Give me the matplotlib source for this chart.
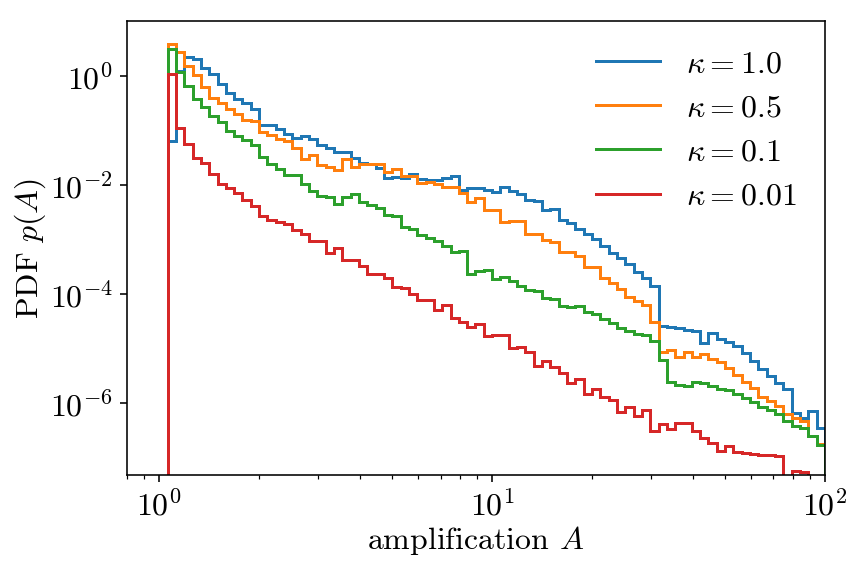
import numpy as np
import matplotlib
matplotlib.use("Agg")
import matplotlib.pyplot as plt
from matplotlib.ticker import NullLocator
from matplotlib.lines import Line2D

plt.rcParams["font.family"] = "serif"
plt.rcParams["font.serif"] = ["cmr10"]
plt.rcParams["mathtext.fontset"] = "cm"
plt.rcParams["axes.formatter.use_mathtext"] = True
plt.rcParams["axes.unicode_minus"] = False
plt.rcParams["font.size"] = 16

# histogram bins: 40 per decade, from 10^(1/40) up to 100
edges = 10 ** (np.arange(1, 81) / 40)

# log10 of the PDF in each bin (None = empty bin)
logp_k1 = [-1.20, 0.10, 0.35, 0.31, 0.15, 0.03, -0.15, -0.31, -0.43, -0.49,
           -0.61, -0.89, -0.90, -0.98, -1.07, -1.13, -1.10, -1.16, -1.26, -1.32,
           -1.40, -1.40, -1.50, -1.59, -1.62, -1.68, -1.86, -1.85, -1.86, -1.79,
           -1.89, -1.90, -1.90, -1.87, -1.84, -2.08, -2.05, -2.06, -2.09, -2.12,
           -2.03, -2.11, -2.17, -2.28, -2.29, -2.45, -2.43, -2.64, -2.70, -2.81,
           -2.90, -2.99, -3.11, -3.25, -3.33, -3.45, -3.60, -3.70, -3.84, -4.58,
           -4.60, -4.62, -4.66, -4.68, -4.90, -4.70, -4.82, -4.88, -4.95, -5.07,
           -5.22, -5.37, -5.49, -5.62, -5.74, -6.17, -6.26, -6.14, -6.44]
logp_k05 = [0.58, 0.44, 0.19, 0.01, -0.20, -0.40, -0.50, -0.60, -0.69, -0.81,
            -0.82, -1.03, -1.09, -1.16, -1.20, -1.32, -1.53, -1.44, -1.64, -1.66,
            -1.73, -1.53, -1.67, -1.61, -1.61, -1.61, -1.76, -1.70, -1.84, -1.84,
            -1.96, -1.95, -1.97, -2.03, -2.03, -2.14, -2.30, -2.24, -2.46, -2.46,
            -2.68, -2.66, -2.66, -2.89, -2.89, -3.01, -3.04, -3.22, -3.22, -3.30,
            -3.50, -3.50, -3.71, -3.80, -3.90, -4.05, -4.12, -4.20, -4.50, -5.06,
            -5.02, -5.14, -5.06, -5.14, -5.10, -5.18, -5.24, -5.35, -5.47, -5.60,
            -5.72, -5.89, -5.95, -6.05, -6.20, -6.26, -6.32, -6.60, -6.75]
logp_k01 = [0.50, 0.07, -0.19, -0.43, -0.57, -0.73, -0.85, -1.00, -1.10, -1.17,
            -1.26, -1.48, -1.61, -1.70, -1.82, -1.82, -1.98, -2.10, -2.19, -2.22,
            -2.34, -2.22, -2.17, -2.31, -2.36, -2.41, -2.55, -2.57, -2.76, -2.81,
            -2.91, -2.97, -3.03, -3.12, -3.22, -3.21, -3.62, -3.58, -3.55, -3.72,
            -3.69, -3.75, -3.85, -3.93, -3.94, -4.06, -4.09, -4.21, -4.24, -4.21,
            -4.33, -4.36, -4.46, -4.52, -4.61, -4.67, -4.73, -4.75, -4.85, -5.20,
            -5.60, -5.66, -5.68, -5.60, -5.62, -5.68, -5.74, -5.76, -5.82, -5.90,
            -5.98, -6.06, -6.12, -6.20, -6.32, -6.42, -6.44, -6.60, -6.76]
logp_k001 = [0.03, -0.96, -1.24, -1.50, -1.60, -1.79, -1.97, -2.05, -2.15, -2.28,
             -2.38, -2.56, -2.64, -2.67, -2.72, -2.82, -2.90, -3.02, -3.03, -3.25,
             -3.16, -3.38, -3.38, -3.48, -3.62, -3.62, -3.70, -3.87, -3.88, -3.99,
             -4.10, -4.10, -4.29, -4.19, -4.43, -4.50, -4.59, -4.54, -4.77, -4.75,
             -4.75, -4.99, -4.97, -5.06, -5.32, -5.23, -5.33, -5.45, -5.62, -5.55,
             -5.82, -5.73, -5.88, -5.94, -6.16, -6.06, -6.22, -6.12, -6.50, -6.38,
             -6.47, -6.36, -6.36, -6.50, -6.64, -6.72, -6.87, -6.77, -6.88, -6.90,
             -6.92, -6.94, -6.95, -6.96, None, -7.24, -7.26, None, None]

labels = [r"$\kappa = 1.0$", r"$\kappa = 0.5$", r"$\kappa = 0.1$", r"$\kappa = 0.01$"]
series = [logp_k1, logp_k05, logp_k01, logp_k001]

fig = plt.figure(figsize=(6, 569 / 143.5), dpi=143.5)
ax = fig.add_subplot(111)
fig.subplots_adjust(left=127 / 861, right=825 / 861, bottom=1 - 475 / 569, top=1 - 21 / 569)

centers = np.sqrt(edges[:-1] * edges[1:])
handles = []
for logp, lab in zip(series, labels):
    a = np.array(logp, dtype=float)
    pdf = np.where(np.isnan(a), 0.0, 10 ** a)
    _, _, patches = ax.hist(centers, bins=edges, weights=pdf, histtype="step",
                            log=True, linewidth=1.5)
    # legend shows plain lines, not boxes
    handles.append(Line2D([], [], color=patches[0].get_edgecolor(), linewidth=1.5, label=lab))

ax.set_xscale("log")
ax.set_xlim(0.8, 100)
ax.set_ylim(10 ** -7.31, 10 ** 1.007)
ax.set_yticks([1e-6, 1e-4, 1e-2, 1e0])
ax.yaxis.set_minor_locator(NullLocator())

ax.set_xlabel(r"amplification $A$", labelpad=1.5)
ax.set_ylabel(r"PDF $p(A)$", labelpad=1)
ax.legend(handles=handles, loc="upper right", frameon=False)

plt.savefig("out.png", dpi=143.5)
